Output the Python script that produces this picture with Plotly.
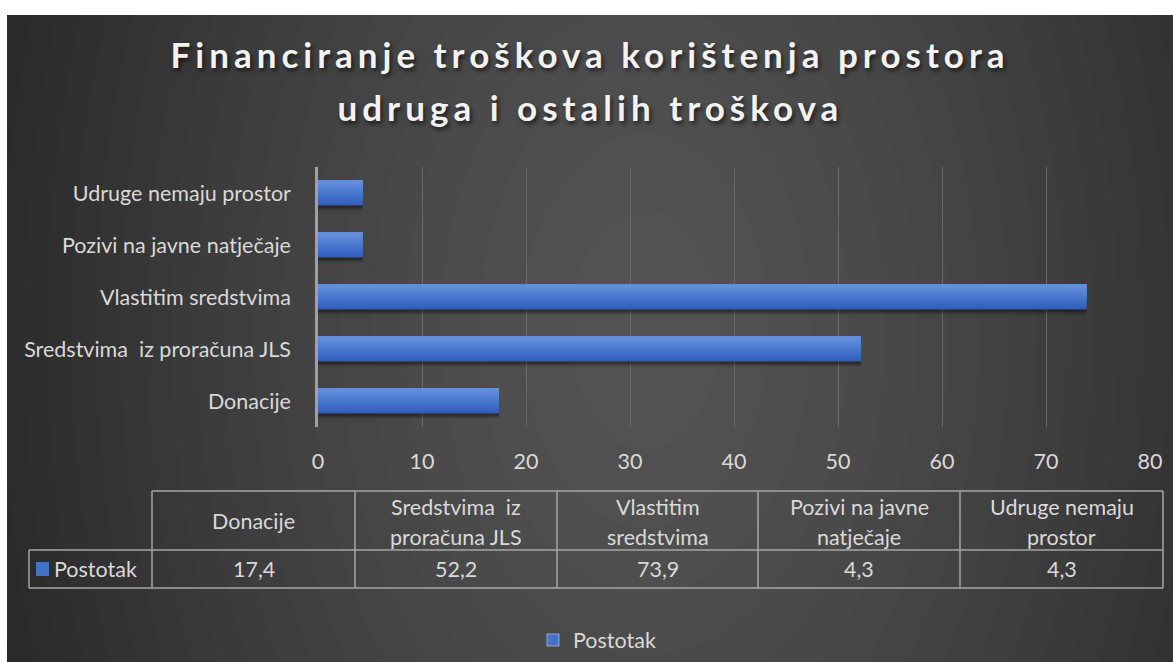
import json
import plotly.graph_objects as go

W, H = 1173, 662

categories = ["Donacije", "Sredstvima  iz proračuna JLS", "Vlastitim sredstvima",
              "Pozivi na javne natječaje", "Udruge nemaju prostor"]
table_labels = ["Donacije", "Sredstvima  iz<br>proračuna JLS", "Vlastitim<br>sredstvima",
                "Pozivi na javne<br>natječaje", "Udruge nemaju<br>prostor"]
values = [17.4, 52.2, 73.9, 4.3, 4.3]
series_name = "Postotak"
x_ticks = [0, 10, 20, 30, 40, 50, 60, 70, 80]
title_lines = ["Financiranje troškova korištenja prostora", "udruga i ostalih troškova"]

FONT = "Lato"
FS = 21.5
TXT = "#d9d9d9"


def px(x):
    return x / W


def py(y):
    return 1 - y / H


fig = go.Figure()

bw = 0.48
# soft shadow under bars
for dy, a in [(0.10, 0.12), (0.07, 0.16), (0.04, 0.22)]:
    fig.add_trace(go.Bar(
        y=categories, x=values, orientation="h", width=bw, offset=-bw / 2 - dy,
        marker=dict(color="rgba(0,0,0,%.2f)" % a, line=dict(width=0)),
        showlegend=False, hoverinfo="skip",
    ))

# gradient bars: each layer covers from its start up to the bar top
N = 12
top = (0x66, 0x90, 0xdc)
bot = (0x2f, 0x5f, 0xbe)
for i in range(N):
    t = i / (N - 1)
    c = tuple(round(bot[k] + (top[k] - bot[k]) * t) for k in range(3))
    fig.add_trace(go.Bar(
        y=categories, x=values, orientation="h",
        width=bw - i * bw / N, offset=-bw / 2 + i * bw / N,
        marker=dict(color="rgb(%d,%d,%d)" % c, line=dict(width=0)),
        name=series_name, showlegend=False, hoverinfo="skip" if i else None,
    ))
# legend entry
fig.add_trace(go.Bar(y=[None], x=[None], orientation="h", name=series_name,
                     marker=dict(color="#4472c4"), showlegend=True, hoverinfo="skip"))

shapes = []
shapes.append(dict(type="rect", xref="paper", yref="paper", x0=px(7), x1=1.01, y0=-0.01, y1=py(15),
                   fillcolor="#262626", line=dict(width=0), layer="below"))
# pseudo radial gradient (wide, soft)
M = 22
cx, cy = 645, 330
RX, RY = 690, 1100
for k in range(M):
    s = (1 - k / M) ** (1 / 1.4)
    rx, ry = RX * s, RY * s
    shapes.append(dict(type="circle", xref="paper", yref="paper",
                       x0=px(cx - rx), x1=px(cx + rx), y0=py(cy + ry), y1=py(cy - ry),
                       fillcolor="rgba(255,255,255,0.0118)", line=dict(width=0), layer="below"))
shapes.append(dict(type="rect", xref="paper", yref="paper", x0=-0.01, x1=1.01, y0=py(15), y1=1.01,
                   fillcolor="white", line=dict(width=0), layer="below"))
shapes.append(dict(type="rect", xref="paper", yref="paper", x0=-0.01, x1=px(7), y0=-0.01, y1=1.01,
                   fillcolor="white", line=dict(width=0), layer="below"))

# data table
col_x = [152, 355, 557, 758, 960, 1163]
y_head_top, y_mid, y_bot = 491, 550, 588
lab_left = 29
LC = "#a6a6a6"
LW = 1.5


def line(x0, y0, x1, y1):
    shapes.append(dict(type="line", xref="paper", yref="paper", x0=px(x0), y0=py(y0),
                       x1=px(x1), y1=py(y1), line=dict(color=LC, width=LW)))


line(col_x[0], y_head_top, col_x[-1], y_head_top)
line(lab_left, y_mid, col_x[-1], y_mid)
line(lab_left, y_bot, col_x[-1], y_bot)
line(lab_left, y_mid, lab_left, y_bot)
for x in col_x:
    line(x, y_head_top, x, y_bot)
shapes.append(dict(type="rect", xref="paper", yref="paper", x0=px(36), x1=px(49), y0=py(576), y1=py(562),
                   fillcolor="#4472c4", line=dict(width=0)))

annotations = []
tfont = dict(family=FONT, size=35, color="#f2f2f2", weight="bold",
             shadow="2px 3px 4px rgba(0,0,0,0.6)")
for j, tl in enumerate(title_lines):
    annotations.append(dict(text=tl, xref="paper", yref="paper", x=px(590), y=py(54 + 53 * j),
                            xanchor="center", yanchor="middle", showarrow=False, font=tfont))
cfont = dict(family=FONT, size=FS, color=TXT)
for i, lab in enumerate(table_labels):
    xc = (col_x[i] + col_x[i + 1]) / 2
    parts = lab.split("<br>")
    ys = [(y_head_top + y_mid) / 2] if len(parts) == 1 else [507, 537]
    for p, yy in zip(parts, ys):
        annotations.append(dict(text=p, xref="paper", yref="paper", x=px(xc), y=py(yy),
                                xanchor="center", yanchor="middle", showarrow=False, font=cfont))
    annotations.append(dict(text=str(values[i]).replace(".", ","), xref="paper", yref="paper",
                            x=px(xc), y=py(569), xanchor="center", yanchor="middle",
                            showarrow=False, font=cfont))
annotations.append(dict(text=series_name, xref="paper", yref="paper", x=px(52), y=py(569),
                        xanchor="left", yanchor="middle", showarrow=False, font=cfont))

fig.update_layout(
    width=W, height=H,
    margin=dict(l=0, r=0, t=0, b=0, pad=0),
    paper_bgcolor="white",
    plot_bgcolor="rgba(0,0,0,0)",
    barmode="overlay",
    font=dict(family=FONT, size=FS, color=TXT),
    shapes=shapes,
    annotations=annotations,
    xaxis=dict(domain=[px(318), px(1150)], range=[0, 80], tickvals=x_ticks, automargin=False,
               showgrid=True, gridcolor="#6a6a6a", gridwidth=1, zeroline=False,
               showline=False, ticks="", ticklabelstandoff=19,
               tickfont=dict(family=FONT, size=FS, color=TXT)),
    yaxis=dict(domain=[py(427), py(167)], showgrid=False, showline=True, automargin=False,
               linecolor="#a0a0a0", linewidth=2.5, ticks="", ticklabelstandoff=20,
               tickfont=dict(family=FONT, size=FS, color=TXT)),
    legend=dict(orientation="h", x=px(597), xanchor="center", y=py(640), yanchor="middle",
                font=dict(family=FONT, size=FS, color=TXT), bgcolor="rgba(0,0,0,0)"),
)

post = (
    "document.body.style.margin='0';document.body.style.overflow='hidden';"
    "var T=%s;document.querySelectorAll('text.annotation-text').forEach(function(e){"
    "if(T.indexOf(e.textContent)>=0){e.style.letterSpacing='5px';}});" % json.dumps(title_lines)
)

fig.write_html("out.html", post_script=post, config={"displayModeBar": False})
